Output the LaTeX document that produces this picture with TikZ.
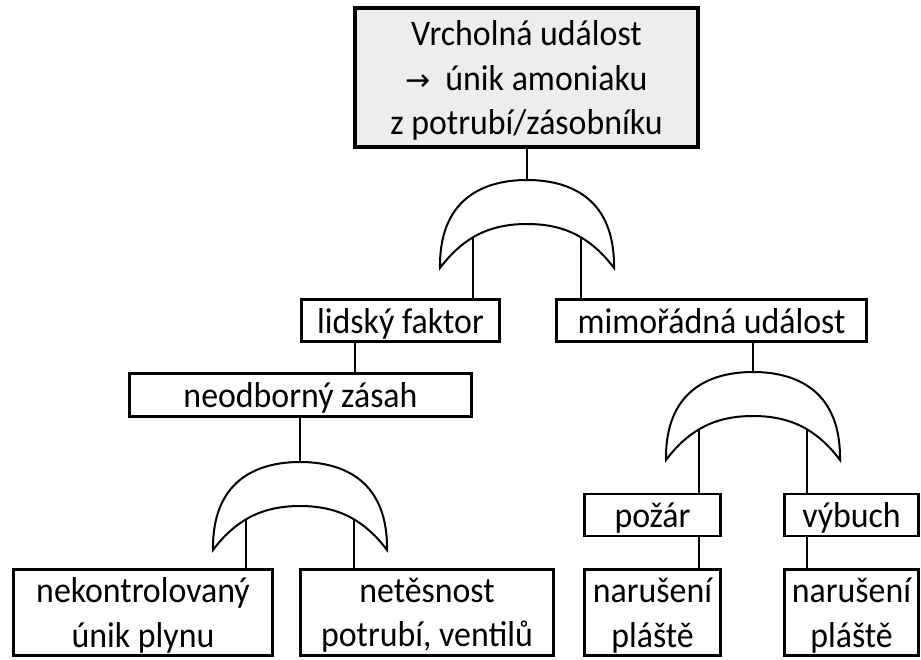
\documentclass[tikz,border=0pt]{standalone}
\usepackage{fontspec}
\setmainfont{Carlito}[FakeStretch=0.94]
\newfontfamily\arrowfont{DejaVu Sans}
\usetikzlibrary{calc}

\begin{document}
\begin{tikzpicture}[x=1pt, y=-1pt, line width=2pt,
  box/.style={draw, line width=2.6pt, inner sep=0pt, align=center,
    font=\fontsize{36}{44.5}\selectfont, text depth=0pt},
  one/.style={text height=25pt, minimum height=42pt},
  two/.style={minimum height=86.5pt},
  orgate/.pic={
    \draw[line width=2pt] (-87,88) .. controls (-88,20) and (-45,0) .. (0,0)
      .. controls (45,0) and (88,20) .. (87,88)
      .. controls (60,52) and (30,44) .. (0,44)
      .. controls (-30,44) and (-60,52) .. (-87,88) -- cycle;
    \coordinate (-out) at (0,0);
    \coordinate (-in1) at (-54,57.5);
    \coordinate (-in2) at (54,57.5);
  }]
  \useasboundingbox (0,0) rectangle (921,659);
  % top event
  \node[box, fill=black!7, line width=4pt, minimum width=343pt, minimum height=139pt]
    (top) at (526.5,77.5) {Vrcholná událost\\ {\arrowfont\fontsize{30}{44.5}\selectfont →}\hspace{7pt} únik amoniaku\\ z potrubí/zásobníku};
  % gates
  \pic (g1) at (527,180) {orgate};
  \pic (g2) at (300,462) {orgate};
  \pic (g3) at (753,372) {orgate};
  % events
  \node[box, one, minimum width=198.5pt] (lidsky) at (400.5,320.5) {lidský faktor};
  \node[box, one, minimum width=310.5pt] (mimo) at (711.5,320.5) {mimořádná událost};
  \node[box, one, minimum width=342.5pt, minimum height=43pt] (neodb) at (300.5,395) {neodborný zásah};
  \node[box, two, minimum width=259.5pt] (nekontr) at (143,612.5) {nekontrolovaný\\ únik plynu};
  \node[box, two, minimum width=253.5pt] (netes) at (427,612.5) {netěsnost\\ potrubí, ventilů};
  \node[box, one, minimum width=136.5pt] (pozar) at (652.5,515) {požár};
  \node[box, one, minimum width=134.5pt] (vybuch) at (851.5,515) {výbuch};
  \node[box, two, minimum width=136.5pt] (plast1) at (652.5,612.5) {narušení\\ pláště};
  \node[box, two, minimum width=134.5pt] (plast2) at (851.5,612.5) {narušení\\ pláště};
  % connectors
  \draw (g1-out) -- (g1-out |- top.south);
  \draw (g1-in1) -- (g1-in1 |- lidsky.north);
  \draw (g1-in2) -- (g1-in2 |- mimo.north);
  \draw (lidsky.south -| 355,0) -- (neodb.north -| 355,0);
  \draw (g3-out) -- (g3-out |- mimo.south);
  \draw (g2-out) -- (g2-out |- neodb.south);
  \draw (g2-in1) -- (g2-in1 |- nekontr.north);
  \draw (g2-in2) -- (g2-in2 |- netes.north);
  \draw (g3-in1) -- (g3-in1 |- pozar.north);
  \draw (g3-in2) -- (g3-in2 |- vybuch.north);
  \draw (pozar.south -| g3-in1) -- (plast1.north -| g3-in1);
  \draw (vybuch.south -| g3-in2) -- (plast2.north -| g3-in2);
\end{tikzpicture}
\end{document}
